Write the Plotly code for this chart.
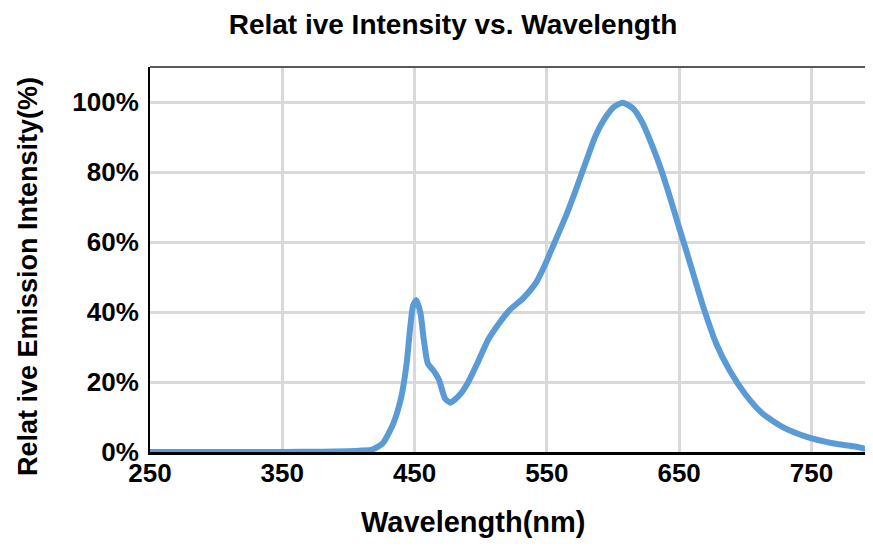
import plotly.graph_objects as go

# Data
wavelength_nm = [250, 300, 350, 380, 400, 410, 418, 426, 434, 440, 444, 446.5, 449, 451.5,
                 454.5, 457, 460, 465, 468.5, 473, 477, 484, 490, 498, 505.5, 513, 522, 532,
                 542, 548, 556, 565, 572, 580, 587, 595, 601, 607.5, 615, 622.5, 630, 636.5,
                 643, 649, 655, 661, 669, 678, 688, 700, 713, 728, 746, 766, 784, 796]
intensity_pct = [0, 0, 0, 0.1, 0.2, 0.4, 0.7, 2.5, 8.2, 15.8, 25.3, 34.9, 42, 43.4,
                 39.6, 32, 25.3, 22.9, 20.6, 15.3, 14.1, 16.3, 19.6, 25.8, 32, 36.3, 40.6, 43.9,
                 48.5, 53, 60, 68, 75, 83.4, 90.5, 96, 98.7, 99.8, 98.2, 93.9, 87.2, 80.6,
                 72.9, 65.3, 58, 50.5, 40.6, 31, 23.4, 16.5, 11, 7.2, 4.4, 2.5, 1.5, 0.4]

x_ticks = [250, 350, 450, 550, 650, 750]
y_ticks = [0, 20, 40, 60, 80, 100]
y_tick_labels = ["0%", "20%", "40%", "60%", "80%", "100%"]

title_text = "Relat ive Intensity vs. Wavelength"
x_title = "Wavelength(nm)"
y_title = "Relat ive Emission Intensity(%)"

FONT = "Liberation Sans, Arial, sans-serif"
OFF = 8  # page body margin offset
W, H = 873 - 2 * OFF, 547 - 2 * OFF
PLOT_W = W - (150 - OFF)

fig = go.Figure()
fig.add_trace(go.Scatter(
    x=wavelength_nm, y=intensity_pct, mode="lines",
    line=dict(color="#5B9BD5", width=6, shape="spline", smoothing=0.6),
    hoverinfo="skip", showlegend=False,
))

fig.update_layout(
    width=W, height=H,
    margin=dict(l=150 - OFF, r=0, t=67 - OFF, b=H - (452 - OFF)),
    paper_bgcolor="white", plot_bgcolor="white",
    font=dict(family=FONT, color="black"),
    title=dict(text="<b>" + title_text + "</b>", x=(453 - OFF) / W, xref="container",
               xanchor="center", y=1 - (24 - OFF) / H, yref="container", yanchor="middle",
               font=dict(size=28, family=FONT, color="black")),
    xaxis=dict(range=[250, 790.5], tickvals=x_ticks, ticktext=[f"<b>{v}</b>" for v in x_ticks],
               showgrid=True, gridcolor="#d9d9d9", gridwidth=3,
               showline=True, linecolor="black", linewidth=3,
               ticks="", ticklabelstandoff=-4,
               tickfont=dict(size=26, family=FONT, color="black"),
               zeroline=False, fixedrange=True),
    yaxis=dict(range=[0, 110], tickvals=y_ticks, ticktext=[f"<b>{t}</b>" for t in y_tick_labels],
               showgrid=True, gridcolor="#d9d9d9", gridwidth=3,
               showline=True, linecolor="black", linewidth=2,
               ticks="outside", ticklen=4, tickcolor="rgba(0,0,0,0)",
               tickfont=dict(size=26, family=FONT, color="black"),
               zeroline=False, fixedrange=True),
    shapes=[dict(type="line", xref="paper", yref="paper", x0=0, x1=1, y0=1, y1=1,
                 line=dict(color="#595959", width=2))],
    annotations=[
        dict(text="<b>" + x_title + "</b>", xref="paper", yref="paper",
             x=(473 - 150) / PLOT_W, y=(452 - 522) / 385, xanchor="center", yanchor="middle",
             showarrow=False, font=dict(size=29, family=FONT, color="black")),
        dict(text="<b>" + y_title + "</b>", xref="paper", yref="paper",
             x=(28 - 150) / PLOT_W, y=(452 - 277) / 385, xanchor="center", yanchor="middle",
             textangle=-90, showarrow=False, font=dict(size=27, family=FONT, color="black")),
    ],
)

fig.write_html("out.html", config={"displayModeBar": False})
